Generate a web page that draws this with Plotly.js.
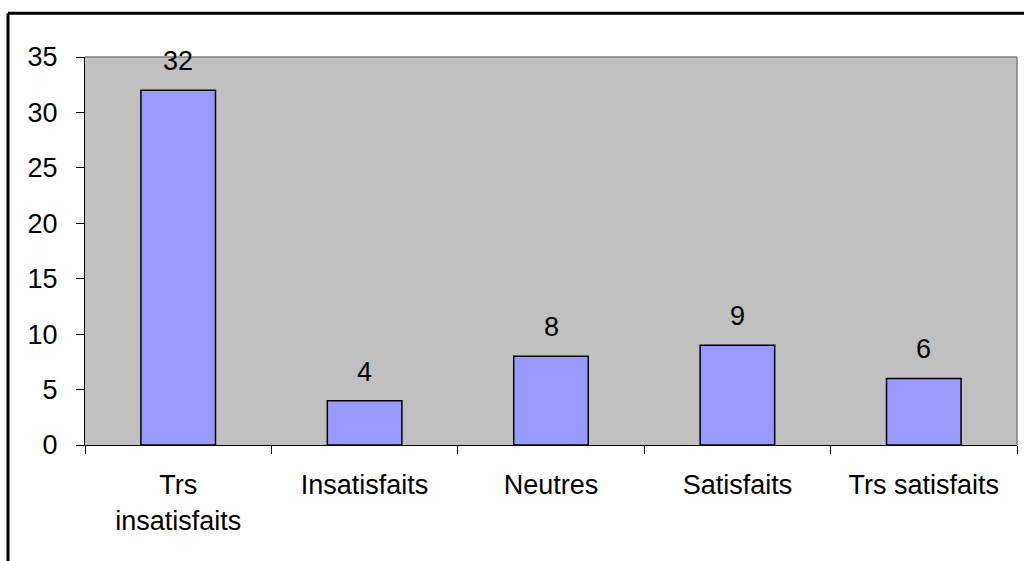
<!DOCTYPE html>
<html>
<head>
<meta charset="utf-8">
<script src="https://cdn.plot.ly/plotly-3.0.1.min.js"></script>
<style>html,body{margin:0;padding:0;background:#fff;}#chart{width:1024px;height:561px;}</style>
</head>
<body>
<div id="chart"></div>
<script>
const categories = ["Trs<br>insatisfaits", "Insatisfaits", "Neutres", "Satisfaits", "Trs satisfaits"];
const values = [32, 4, 8, 9, 6];
const yTicks = [0, 5, 10, 15, 20, 25, 30, 35];

const FONT = {family: "Liberation Sans, Arial, sans-serif", size: 27, color: "#000"};

const trace = {
  type: "bar",
  x: categories,
  y: values,
  width: 0.4,
  marker: {color: "#9999FF", line: {color: "#000", width: 1.5}},
  hoverinfo: "skip"
};

const annotations = categories.map((c, i) => ({
  x: c, y: values[i], xref: "x", yref: "y",
  text: String(values[i]), showarrow: false,
  yanchor: "bottom", yshift: 12, font: FONT
}));

const layout = {
  width: 1024, height: 561,
  margin: {l: 85, r: 7, t: 57, b: 116},
  paper_bgcolor: "#fff",
  plot_bgcolor: "#C0C0C0",
  font: FONT,
  showlegend: false,
  bargap: 0.6,
  xaxis: {
    type: "category",
    tickson: "boundaries",
    ticks: "outside", ticklen: 8, tickcolor: "#000", tickwidth: 1,
    showline: true, linecolor: "#000", linewidth: 1,
    showgrid: false, zeroline: false,
    ticklabelstandoff: 16,
    tickfont: FONT
  },
  yaxis: {
    range: [0, 35],
    tickvals: yTicks,
    ticks: "outside", ticklen: 8, tickcolor: "#000", tickwidth: 1,
    showline: true, linecolor: "#000", linewidth: 1,
    showgrid: false, zeroline: false,
    ticklabelstandoff: 13,
    tickfont: FONT
  },
  annotations: annotations,
  shapes: [
    {type: "line", xref: "paper", yref: "paper", x0: 0, x1: 1, y0: 1, y1: 1, line: {color: "#808080", width: 1.5}},
    {type: "line", xref: "paper", yref: "paper", x0: 1, x1: 1, y0: 0, y1: 1, line: {color: "#808080", width: 1.5}},
    {type: "line", xref: "paper", yref: "paper", x0: -0.0826, x1: 1.02, y0: 1.1125, y1: 1.1125, line: {color: "#000", width: 3}},
    {type: "line", xref: "paper", yref: "paper", x0: -0.0826, x1: -0.0826, y0: 1.1125, y1: -0.35, line: {color: "#000", width: 3}}
  ]
};

Plotly.newPlot("chart", [trace], layout, {displayModeBar: false, staticPlot: true});
</script>
</body>
</html>
